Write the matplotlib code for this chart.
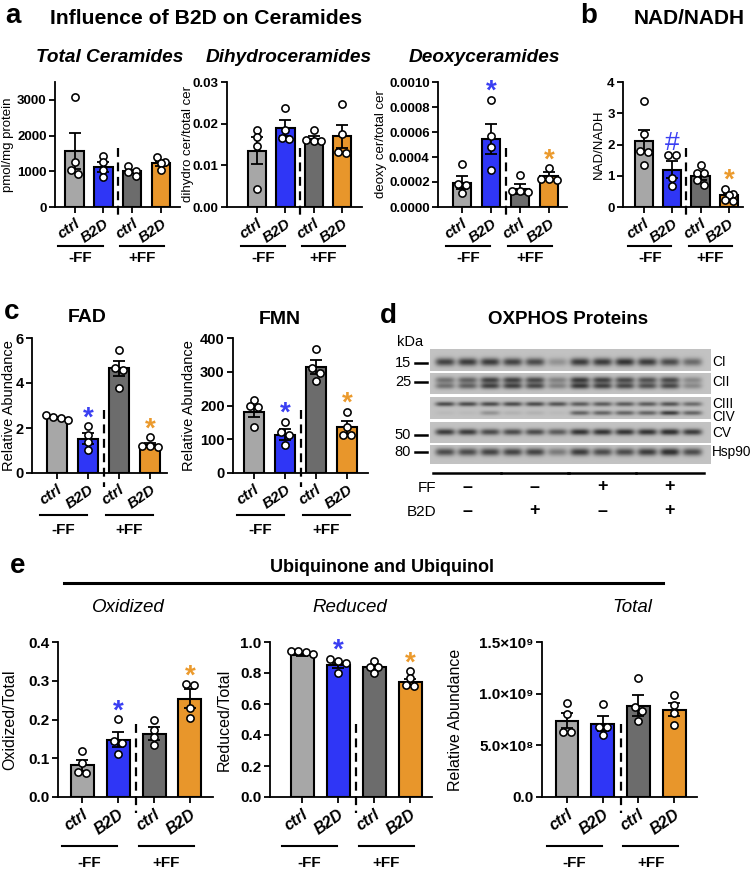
import numpy as np
import matplotlib
matplotlib.use('Agg')
import matplotlib.pyplot as plt
from matplotlib import transforms

plt.rcParams['font.family'] = ['Liberation Sans', 'DejaVu Sans']
plt.rcParams['font.weight'] = 'bold'
plt.rcParams['axes.linewidth'] = 1.3

W, H = 752, 869

groups = ['ctrl', 'B2D', 'ctrl', 'B2D']
ff_labels = ['-FF', '+FF']
bar_colors = ['#a7a7a7', '#2f36f6', '#6c6c6c', '#e8962b']
sig_colors = ['k', '#3a3ff2', 'k', '#eb9a2d']

# a: ceramides
tcer_mean = [1570, 1120, 1000, 1220]
tcer_sem = [500, 130, 50, 70]
tcer_pts = [[3070, 1270, 1050, 920], [1440, 1250, 1050, 850],
            [1150, 1020, 990, 880], [1410, 1260, 1230, 1050]]
tcer_sig = ['', '', '', '']

dcer_mean = [0.0135, 0.0190, 0.0164, 0.0170]
dcer_sem = [0.0032, 0.0020, 0.0007, 0.0028]
dcer_pts = [[0.0186, 0.0168, 0.0146, 0.0043], [0.0237, 0.0186, 0.0165, 0.0163],
            [0.0186, 0.0160, 0.0159, 0.0158], [0.0248, 0.0176, 0.0132, 0.0130]]
dcer_sig = ['', '', '', '']

xcer_mean = [0.000195, 0.000545, 0.000145, 0.000248]
xcer_sem = [0.000053, 0.00012, 0.00004, 0.00003]
xcer_pts = [[0.000342, 0.000187, 0.000174, 0.000112], [0.00086, 0.000567, 0.00048, 0.000294],
            [0.000254, 0.00013, 0.000126, 0.00012], [0.000313, 0.000228, 0.000225, 0.00022]]
xcer_sig = ['', '*', '', '*']

# b: NAD/NADH
nad_mean = [2.12, 1.20, 1.00, 0.37]
nad_sem = [0.36, 0.27, 0.12, 0.08]
nad_pts = [[3.40, 2.33, 1.80, 1.75, 1.36], [1.68, 1.65, 0.93, 0.66],
           [1.36, 1.09, 1.08, 0.86, 0.70], [0.59, 0.43, 0.40, 0.21, 0.18]]
nad_sig = ['', '#', '', '*']

# c: flavins
fad_mean = [2.43, 1.53, 4.66, 1.24]
fad_sem = [0.05, 0.25, 0.33, 0.10]
fad_pts = [[2.57, 2.50, 2.45, 2.35], [2.08, 1.68, 1.38, 1.01],
           [5.45, 4.66, 4.58, 3.78], [1.60, 1.22, 1.19, 1.15]]
fad_sig = ['', '*', '', '*']

fmn_mean = [182, 114, 315, 135]
fmn_sem = [17, 17, 21, 19]
fmn_pts = [[216, 198, 195, 137], [152, 122, 112, 84],
           [367, 310, 295, 273], [182, 137, 112, 112]]
fmn_sig = ['', '*', '', '*']

# e: ubiquinone / ubiquinol
oxi_mean = [0.082, 0.148, 0.163, 0.254]
oxi_sem = [0.014, 0.020, 0.017, 0.024]
oxi_pts = [[0.120, 0.088, 0.064, 0.063], [0.201, 0.145, 0.140, 0.112],
           [0.200, 0.174, 0.156, 0.135], [0.291, 0.290, 0.230, 0.204]]
oxi_sig = ['', '*', '', '*']

red_mean = [0.918, 0.850, 0.837, 0.740]
red_sem = [0.010, 0.015, 0.012, 0.020]
red_pts = [[0.944, 0.940, 0.938, 0.920], [0.893, 0.876, 0.865, 0.800],
           [0.880, 0.840, 0.838, 0.800], [0.810, 0.770, 0.720, 0.718]]
red_sig = ['', '*', '', '*']

tot_mean = [7.4e8, 7.1e8, 8.85e8, 8.45e8]
tot_sem = [0.7e8, 0.7e8, 1.0e8, 0.65e8]
tot_pts = [[9.1e8, 8.0e8, 6.3e8, 6.3e8], [9.0e8, 6.8e8, 6.8e8, 6.0e8],
           [11.5e8, 8.7e8, 8.3e8, 7.4e8], [9.9e8, 8.9e8, 8.1e8, 7.0e8]]
tot_sig = ['', '', '', '']

# d: western blot band densities (12 lanes)
blot_ci = [0.80, 0.85, 0.85, 0.80, 0.75, 0.30, 0.85, 0.85, 0.90, 0.85, 0.75, 0.55]
blot_cii = [0.50, 0.60, 0.80, 0.80, 0.75, 0.40, 0.85, 0.80, 0.75, 0.70, 0.75, 0.35]
blot_ciii = [0.75, 0.75, 0.75, 0.75, 0.75, 0.70, 0.65, 0.65, 0.65, 0.65, 0.70, 0.55]
blot_civ = [0.05, 0.05, 0.30, 0.10, 0.10, 0.05, 0.60, 0.60, 0.60, 0.60, 0.85, 0.60]
blot_cv = [0.85, 0.85, 0.75, 0.75, 0.75, 0.65, 0.90, 0.90, 0.90, 0.90, 0.95, 0.85]
blot_hsp = [0.75, 0.75, 0.80, 0.80, 0.80, 0.45, 0.85, 0.75, 0.75, 0.85, 0.95, 0.75]
blot_ff = ['–', '–', '+', '+']
blot_b2d = ['–', '+', '–', '+']

fig = plt.figure(figsize=(W / 100, H / 100), dpi=100)


def swarm(vals, ymax, h_px, ppu, diam=7.6):
    # spread points that sit at almost the same height, centred on the bar
    ypx = np.array(vals) / ymax * h_px
    order = np.argsort(-ypx)
    rows, xs = [], np.zeros(len(vals))
    for i in order:
        if rows and ypx[rows[-1][0]] - ypx[i] < diam * 0.75:
            rows[-1].append(i)
        else:
            rows.append([i])
    for row in rows:
        n = len(row)
        for j, i in enumerate(row):
            xs[i] = (j - (n - 1) / 2) * diam / ppu
    return xs


def bar_panel(box, xlim, ylim, yticks, yticklabels, means, sems, pts, sig,
              ylabel, ylab_x, line_off, text_off, ylabel_size=9.5, tick_size=9.5,
              xlab_size=11):
    left, top, right, bottom = box
    w_px, h_px = right - left, bottom - top
    ax = fig.add_axes([left / W, 1 - bottom / H, w_px / W, h_px / H])
    x = np.arange(4)
    ax.bar(x, means, width=0.64, color=bar_colors, edgecolor='k',
           linewidth=1.5, zorder=2)
    ax.errorbar(x, means, yerr=sems, fmt='none', ecolor='k', elinewidth=1.3,
                capsize=4, capthick=1.3, zorder=3)
    ppu = w_px / (xlim[1] - xlim[0])
    for i, p in enumerate(pts):
        dx = swarm(p, ylim[1], h_px, ppu)
        ax.plot(i + dx, p, 'o', ms=5.2, mfc='white', mec='k',
                mew=1.15, zorder=4, clip_on=False)
    for i, s in enumerate(sig):
        if not s:
            continue
        ytop = max(max(pts[i]), means[i] + sems[i])
        if s == '*':
            off = transforms.ScaledTranslation(0, 0.5 / 72, fig.dpi_scale_trans)
            ax.text(i, ytop, s, ha='center', va='baseline', fontsize=20,
                    color=sig_colors[i], transform=ax.transData + off)
        else:
            off = transforms.ScaledTranslation(0, 3 / 72, fig.dpi_scale_trans)
            ax.text(i, ytop, s, ha='center', va='baseline', fontsize=19,
                    fontweight='normal', color=sig_colors[i],
                    transform=ax.transData + off)
    ax.set_xlim(*xlim)
    ax.set_ylim(*ylim)
    ax.set_yticks(yticks)
    ax.set_yticklabels(yticklabels)
    ax.set_xticks(x)
    ax.set_xticklabels(groups, rotation=35, ha='right', va='top',
                       rotation_mode='anchor', style='italic', fontsize=xlab_size)
    ax.tick_params(axis='both', width=1.3, length=4, labelsize=tick_size)
    ax.tick_params(axis='y', pad=2)
    ax.tick_params(axis='x', labelsize=xlab_size, pad=3)
    for sp in ['top', 'right']:
        ax.spines[sp].set_visible(False)
    ax.set_ylabel(ylabel, fontsize=ylabel_size)
    ax.yaxis.set_label_coords((ylab_x + 6 - left) / w_px, 0.5)
    tr = transforms.blended_transform_factory(ax.transData, ax.transAxes)
    ax.plot([1.5, 1.5], [0.47, -0.10], transform=tr, color='k', lw=1.6,
            ls=(0, (4, 2.5)), clip_on=False, zorder=5)
    for g, (x0, x1) in enumerate([(-0.56, 0.97), (1.58, 3.1)]):
        ax.plot([x0, x1], [-line_off / h_px] * 2, transform=tr, color='k',
                lw=1.5, clip_on=False)
        ax.text((x0 + x1) / 2, -text_off / h_px, ff_labels[g], transform=tr,
                ha='center', va='center', fontsize=11)
    return ax


# panel a
bar_panel((55, 82, 180, 207), (-0.68, 3.66), (0, 3500), [0, 1000, 2000, 3000],
          ['0', '1000', '2000', '3000'], tcer_mean, tcer_sem, tcer_pts, tcer_sig,
          'pmol/mg protein', 8, 39, 51, 9.5)
bar_panel((227, 82, 362, 207), (-1.06, 3.7), (0, 0.03), [0, 0.01, 0.02, 0.03],
          ['0.00', '0.01', '0.02', '0.03'], dcer_mean, dcer_sem, dcer_pts, dcer_sig,
          'dihydro cer/total cer', 188, 39, 51, 9.5)
bar_panel((438, 82, 567, 207), (-0.83, 3.62), (0, 0.001),
          [0, 0.0002, 0.0004, 0.0006, 0.0008, 0.001],
          ['0.0000', '0.0002', '0.0004', '0.0006', '0.0008', '0.0010'],
          xcer_mean, xcer_sem, xcer_pts, xcer_sig, 'deoxy cer/total cer', 381, 39, 51, 9.5)
# panel b
bar_panel((623, 82, 743, 207), (-0.74, 3.5), (0, 4), [0, 1, 2, 3, 4],
          ['0', '1', '2', '3', '4'], nad_mean, nad_sem, nad_pts, nad_sig,
          'NAD/NADH', 599, 39, 51, 9.5)
# panel c
bar_panel((32, 338, 167, 473), (-0.81, 3.55), (0, 6), [0, 2, 4, 6],
          ['0', '2', '4', '6'], fad_mean, fad_sem, fad_pts, fad_sig,
          'Relative Abundance', 10, 42, 57, 10.5, 10.5)
bar_panel((233, 338, 368, 473), (-0.68, 3.68), (0, 400), [0, 100, 200, 300, 400],
          ['0', '100', '200', '300', '400'], fmn_mean, fmn_sem, fmn_pts, fmn_sig,
          'Relative Abundance', 190, 42, 57, 10.5, 10.5)
# panel e
bar_panel((58, 642, 213, 797), (-0.67, 3.64), (0, 0.4), [0, 0.1, 0.2, 0.3, 0.4],
          ['0.0', '0.1', '0.2', '0.3', '0.4'], oxi_mean, oxi_sem, oxi_pts, oxi_sig,
          'Oxidized/Total', 11, 49, 66, 11.5, 11, 11.5)
bar_panel((270, 642, 432, 797), (-0.89, 3.61), (0, 1.0), [0, 0.2, 0.4, 0.6, 0.8, 1.0],
          ['0.0', '0.2', '0.4', '0.6', '0.8', '1.0'], red_mean, red_sem, red_pts, red_sig,
          'Reduced/Total', 226, 49, 66, 11.5, 11, 11.5)
bar_panel((542, 642, 697, 797), (-0.7, 3.64), (0, 1.5e9), [0, 5e8, 1e9, 1.5e9],
          ['0.0', '5.0×10⁸', '1.0×10⁹', '1.5×10⁹'], tot_mean, tot_sem, tot_pts, tot_sig,
          'Relative Abundance', 457, 49, 66, 11.5, 11, 11.5)

# overlay for titles and blot
ov = fig.add_axes([0, 0, 1, 1])
ov.set_xlim(0, W)
ov.set_ylim(H, 0)
ov.axis('off')


def txt(x, y, s, size, **kw):
    kw.setdefault('ha', 'center')
    kw.setdefault('va', 'center')
    ov.text(x, y, s, fontsize=size, **kw)


txt(13, 16, 'a', 20)
txt(50, 18, 'Influence of B2D on Ceramides', 15.2, ha='left')
txt(110, 57, 'Total Ceramides', 13.7, style='italic')
txt(289, 57, 'Dihydroceramides', 13.7, style='italic')
txt(484, 57, 'Deoxyceramides', 13.7, style='italic')
txt(589, 16, 'b', 20)
txt(689, 18, 'NAD/NADH', 15)
txt(12, 312, 'c', 20)
txt(87, 318, 'FAD', 14)
txt(280, 320, 'FMN', 14)
txt(388, 316, 'd', 20)
txt(568, 320, 'OXPHOS Proteins', 13.5)
txt(18, 566, 'e', 20)
txt(382, 567, 'Ubiquinone and Ubiquinol', 13)
ov.plot([64, 663], [583, 583], color='k', lw=2.2)
txt(128, 607, 'Oxidized', 13.5, style='italic', fontweight='normal')
txt(350, 607, 'Reduced', 13.5, style='italic', fontweight='normal')
txt(632, 607, 'Total', 13.5, style='italic', fontweight='normal')

# western blot
lane_x = 445 + 22.5 * np.arange(12)
bl, br = 430, 711


def strip(top, bottom, bands):
    nx, ny = (br - bl) * 2, (bottom - top) * 4
    X, Y = np.meshgrid(np.linspace(bl, br, nx), np.linspace(top, bottom, ny))
    img = np.full(X.shape, 0.76)
    for yc, dens, sy in bands:
        for lx, a in zip(lane_x, dens):
            img -= 0.62 * a * np.exp(-((X - lx) / 9.8) ** 4) * np.exp(-((Y - yc) / sy) ** 2)
    img = np.clip(img, 0.2, 1)
    ov.imshow(img, cmap='gray', vmin=0, vmax=1, extent=(bl, br, bottom, top),
              aspect='auto', interpolation='bilinear')


strip(349, 371, [(362, blot_ci, 4.0)])
strip(373, 394, [(380, blot_cii, 3.2), (386, blot_cii, 3.0)])
strip(397, 419, [(404, blot_ciii, 2.3), (413, blot_civ, 2.3)])
strip(422, 443, [(432, blot_cv, 3.2)])
strip(445, 464, [(452, blot_hsp, 3.8)])
ov.set_xlim(0, W)
ov.set_ylim(H, 0)

txt(397, 342, 'kDa', 10.5, ha='left', fontweight='normal')
for lab, yy in [('15', 363), ('25', 382), ('50', 435), ('80', 452)]:
    txt(411, yy, lab, 10.5, ha='right', fontweight='normal')
    ov.plot([415, 427], [yy, yy], color='k', lw=1.8)
for lab, yy in [('CI', 362), ('CII', 382), ('CIII', 404), ('CIV', 417),
                ('CV', 433), ('Hsp90', 452)]:
    txt(712, yy, lab, 9.8, ha='left', fontweight='normal')
for g in range(4):
    x0, x1 = lane_x[3 * g] - 12, lane_x[3 * g + 2] + 11
    ov.plot([x0, x1], [473, 473], color='k', lw=1.8)
    xc = (x0 + x1) / 2
    txt(xc, 487, blot_ff[g], 13)
    txt(xc, 511, blot_b2d[g], 13)
txt(436, 488, 'FF', 11, ha='right', fontweight='normal')
txt(436, 512, 'B2D', 11, ha='right', fontweight='normal')

fig.savefig('out.png', dpi=100)
